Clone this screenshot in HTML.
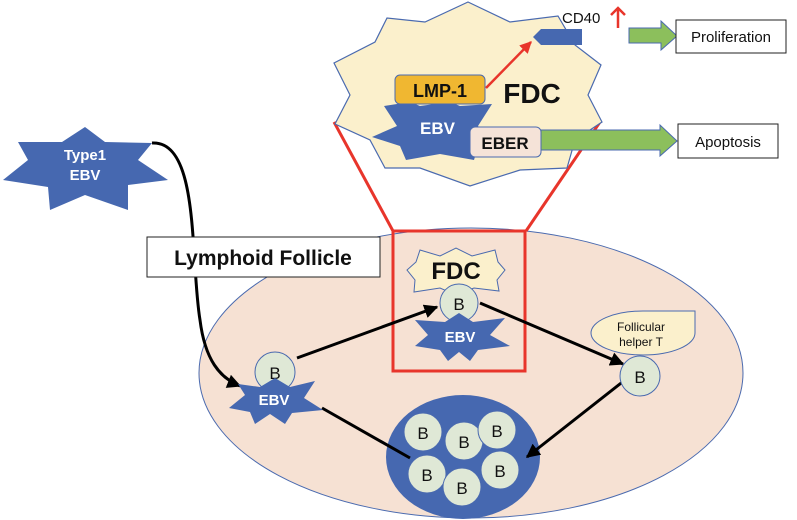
<!DOCTYPE html>
<html><head><meta charset="utf-8"><style>
html,body{margin:0;padding:0;background:#fff}
svg{display:block}
text{font-family:"Liberation Sans",sans-serif}
</style></head><body>
<svg width="797" height="520" viewBox="0 0 797 520">
<defs>
<marker id="ak" viewBox="0 0 10 10" markerWidth="14" markerHeight="14" refX="9" refY="5" orient="auto" markerUnits="userSpaceOnUse"><path d="M0,0 L10,5 L0,10z" fill="#000"/></marker>
<marker id="ar" viewBox="0 0 10 10" markerWidth="12" markerHeight="12" refX="9" refY="5" orient="auto" markerUnits="userSpaceOnUse"><path d="M0,0 L10,5 L0,10z" fill="#e8352b"/></marker>
</defs>

<ellipse cx="471" cy="373" rx="272" ry="145" fill="#f6e1d3" stroke="#4a6aaf" stroke-width="1"/>

<line x1="334" y1="122" x2="393" y2="231" stroke="#e8352b" stroke-width="3"/>
<line x1="600" y1="122" x2="526" y2="231" stroke="#e8352b" stroke-width="3"/>

<polygon points="468,2 510,22 558,16 575,45 601,65 588,95 602,122 575,140 567,168 520,170 470,186 420,168 385,168 370,140 335,124 350,95 334,63 375,42 387,18 425,22" fill="#fbf0cc" stroke="#4a6aaf" stroke-width="1.2"/>

<polygon points="384,106 410,102 420,106 450,102 460,106 492,104 478,126 490,140 477,150 474,160 440,154 406,160 400,146 372,137 397,126" fill="#4668b0"/>
<text x="420" y="134" font-size="17" font-weight="bold" fill="#fff">EBV</text>
<rect x="395" y="75" width="90" height="29" rx="5" fill="#f0b731" stroke="#4a6aaf" stroke-width="1"/>
<text x="440" y="97" font-size="18" font-weight="bold" text-anchor="middle" fill="#111">LMP-1</text>
<rect x="470" y="127" width="71" height="30" rx="5" fill="#f5e3d8" stroke="#4a6aaf" stroke-width="1"/>
<text x="505" y="149" font-size="17" font-weight="bold" text-anchor="middle" fill="#111">EBER</text>
<text x="532" y="103" font-size="28" font-weight="bold" text-anchor="middle" fill="#111">FDC</text>
<line x1="486" y1="88" x2="531" y2="42" stroke="#e8352b" stroke-width="2.5" marker-end="url(#ar)"/>
<polygon points="541,29 582,29 582,45 541,45 533,37" fill="#4668b0"/>
<text x="562" y="23" font-size="15" fill="#111">CD40</text>
<line x1="618" y1="28" x2="618" y2="10" stroke="#e8352b" stroke-width="2.5"/>
<polyline points="611,15 618,8 625,15" fill="none" stroke="#e8352b" stroke-width="2.5"/>

<polygon points="629,28 661,28 661,21 677,36 661,50 661,43 629,43" fill="#8cbf5c" stroke="#4a6aaf" stroke-width="1"/>
<rect x="676" y="20" width="110" height="33" fill="#fff" stroke="#222" stroke-width="1"/>
<text x="731" y="42" font-size="15" text-anchor="middle" fill="#111">Proliferation</text>
<polygon points="541,130 660,130 660,125 677,141 660,156 660,150 541,150" fill="#8cbf5c" stroke="#4a6aaf" stroke-width="1"/>
<rect x="678" y="124" width="100" height="34" fill="#fff" stroke="#222" stroke-width="1"/>
<text x="728" y="147" font-size="15" text-anchor="middle" fill="#111">Apoptosis</text>

<polygon points="85,127 105,142 152,143 138,160 168,180 128,185 128,210 85,195 50,210 48,187 3,180 28,160 18,142 62,142" fill="#4668b0"/>
<text x="85" y="160" font-size="15" font-weight="bold" text-anchor="middle" fill="#fff">Type1</text>
<text x="85" y="180" font-size="15" font-weight="bold" text-anchor="middle" fill="#fff">EBV</text>

<path d="M152,143 C200,140 190,260 200,320 C205,360 220,378 240,386" fill="none" stroke="#000" stroke-width="3" marker-end="url(#ak)"/>

<rect x="147" y="237" width="233" height="40" fill="#fff" stroke="#222" stroke-width="1"/>
<text x="263" y="265" font-size="21" font-weight="bold" text-anchor="middle" fill="#111">Lymphoid Follicle</text>

<rect x="393" y="231" width="132" height="140" fill="none" stroke="#e8352b" stroke-width="3"/>

<polygon points="420,250 440,256 456,248 472,256 495,250 498,262 505,270 497,280 499,291 474,288 456,295 440,288 414,292 415,280 407,270 416,262" fill="#fbf0cc" stroke="#4a6aaf" stroke-width="1"/>
<text x="456" y="279" font-size="24" font-weight="bold" text-anchor="middle" fill="#111">FDC</text>

<ellipse cx="463" cy="457" rx="77" ry="62" fill="#4668b0"/>

<line x1="297" y1="358" x2="437" y2="307" stroke="#000" stroke-width="3" marker-end="url(#ak)"/>
<line x1="480" y1="303" x2="623" y2="364" stroke="#000" stroke-width="3" marker-end="url(#ak)"/>
<line x1="322" y1="408" x2="410" y2="458" stroke="#000" stroke-width="3"/>
<line x1="625" y1="380" x2="527" y2="457" stroke="#000" stroke-width="3" marker-end="url(#ak)"/>

<circle cx="459" cy="303" r="19" fill="#dfe8d6" stroke="#4a6aaf" stroke-width="1"/>
<text x="459" y="310" font-size="17" text-anchor="middle" fill="#111">B</text>
<polygon points="459,313 473,322 505,318 490,335 510,346 478,350 470,361 459,352 448,361 440,350 415,346 428,335 415,320 445,322" fill="#4668b0"/>
<text x="460" y="342" font-size="15" font-weight="bold" text-anchor="middle" fill="#fff">EBV</text>

<circle cx="275" cy="372" r="20" fill="#dfe8d6" stroke="#4a6aaf" stroke-width="1"/>
<text x="275" y="379" font-size="17" text-anchor="middle" fill="#111">B</text>
<polygon points="275,378 290,387 315,381 304,398 323,410 292,413 285,424 270,414 255,424 250,412 229,408 245,395 238,384 260,387" fill="#4668b0"/>
<text x="274" y="405" font-size="15" font-weight="bold" text-anchor="middle" fill="#fff">EBV</text>

<path d="M695,311 L695,333 A52,22 0 1 1 643,311 Z" fill="#fbf0cc" stroke="#4a6aaf" stroke-width="1"/>
<text x="641" y="331" font-size="12" text-anchor="middle" fill="#111">Follicular</text>
<text x="641" y="346" font-size="12" text-anchor="middle" fill="#111">helper T</text>
<circle cx="640" cy="376" r="20" fill="#dfe8d6" stroke="#4a6aaf" stroke-width="1"/>
<text x="640" y="383" font-size="17" text-anchor="middle" fill="#111">B</text>

<g fill="#dfe8d6" stroke="#4a6aaf" stroke-width="1">
<circle cx="423" cy="432" r="19"/><circle cx="464" cy="441" r="19"/><circle cx="497" cy="430" r="19"/>
<circle cx="427" cy="474" r="19"/><circle cx="462" cy="487" r="19"/><circle cx="500" cy="470" r="19"/>
</g>
<g font-size="17" text-anchor="middle" fill="#111">
<text x="423" y="439">B</text><text x="464" y="448">B</text><text x="497" y="437">B</text>
<text x="427" y="481">B</text><text x="462" y="494">B</text><text x="500" y="477">B</text>
</g>
</svg>
</body></html>
